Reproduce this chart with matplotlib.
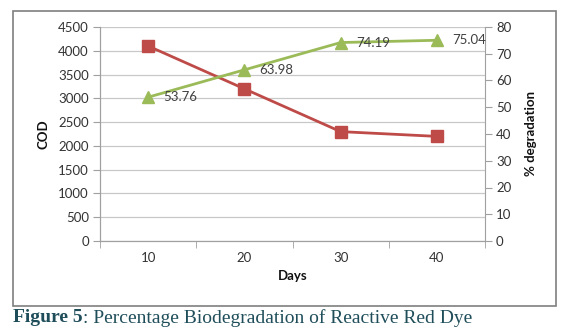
import matplotlib
matplotlib.use('Agg')

import matplotlib.pyplot as plt
from matplotlib.patches import Rectangle

# Data
days = ['10', '20', '30', '40']
cod = [4100, 3200, 2300, 2200]
degradation = [53.76, 63.98, 74.19, 75.04]

red = '#BE4B48'
green = '#9BBB59'
axis_grey = '#A0A0A0'

plt.rcParams['font.family'] = ['Lato', 'DejaVu Sans']

fig = plt.figure(figsize=(5.66, 3.35), dpi=100)
W, H = 566, 335
ax = fig.add_axes([100 / W, 1 - 241 / H, 385 / W, 214 / H])
ax2 = ax.twinx()

x = list(range(len(days)))

# COD series
ax.plot(x, cod, color=red, linewidth=2, marker='s', markersize=8,
        markerfacecolor=red, markeredgecolor=red, zorder=3)
ax.set_ylim(0, 4500)
ax.set_yticks(range(0, 4501, 500))
ax.set_xlim(-0.5, len(days) - 0.5)
ax.set_xticks(x)
ax.set_xticklabels(days)
ax.set_xticks([i + 0.5 for i in range(-1, len(days))], minor=True)
ax.grid(axis='y', color='#C8C8C8', linewidth=0.9)
ax.set_axisbelow(True)

# % degradation series
ax2.plot(x, degradation, color=green, linewidth=2, marker='^', markersize=9,
         markerfacecolor=green, markeredgecolor=green, zorder=3)
ax2.set_ylim(0, 80)
ax2.set_yticks(range(0, 81, 10))
for xi, v in zip(x, degradation):
    ax2.annotate(f'{v:.2f}', (xi, v), xytext=(11, 0), textcoords='offset points',
                 va='center', ha='left', fontsize=9.5, color='#404040')

for a in (ax, ax2):
    a.spines['top'].set_visible(False)
    a.spines['left'].set_color(axis_grey)
    a.spines['right'].set_color(axis_grey)
    a.spines['bottom'].set_color(axis_grey)
    a.tick_params(colors=axis_grey, labelcolor='#333333', labelsize=9.5)

ax.tick_params(axis='x', which='major', length=0, pad=8)
ax.tick_params(axis='x', which='minor', length=5, direction='out', color=axis_grey)
ax.tick_params(axis='y', length=5, direction='out', pad=3)
ax2.tick_params(axis='y', length=5, direction='out', pad=3)
ax.spines['right'].set_visible(False)

ax.set_ylabel('COD', fontsize=9.5, fontweight='bold', color='#111111', labelpad=6)
ax2.set_ylabel('% degradation', fontsize=9.5, fontweight='bold', color='#111111', labelpad=10)
ax.set_xlabel('Days', fontsize=9.5, fontweight='bold', color='#111111', labelpad=4)

# Outer chart frame
fig.patches.append(Rectangle((13 / W, 1 - 306 / H), 543 / W, 295 / H,
                             transform=fig.transFigure, fill=False,
                             edgecolor='#7F7F7F', linewidth=1.2))

# Caption: bold figure number followed by plain description
cap_y = 1 - 318 / H
t1 = fig.text(13 / W, cap_y, 'Figure 5', fontsize=14, fontweight='bold',
              color='#1F4E5A', family='Liberation Serif', va='center')
fig.canvas.draw()
bb = t1.get_window_extent()
fig.text(bb.x1 / W, cap_y, ': Percentage Biodegradation of Reactive Red Dye',
         fontsize=14, color='#1F4E5A', family='Liberation Serif', va='center')

fig.savefig('out.png', dpi=100)
